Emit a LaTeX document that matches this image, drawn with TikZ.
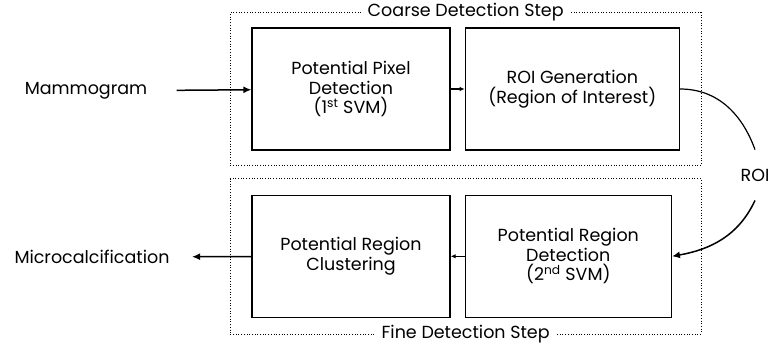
\documentclass[tikz,border=0pt]{standalone}
\usepackage{fontspec}
\setmainfont{Poppins}
\usetikzlibrary{positioning,fit,arrows.meta}

\begin{document}
\begin{tikzpicture}[x=1pt,y=1pt,node distance=14pt,
    font=\fontsize{17.5}{19.5}\selectfont,
    block/.style={draw,line width=1.3pt,minimum width=198pt,minimum height=122pt,
      align=center,inner sep=0pt},
    frame/.style={draw,dotted,line width=0.7pt,inner xsep=21pt,inner ysep=15pt},
    flow/.style={-{Latex[length=8pt,width=7pt]},line width=1.5pt},
    link/.style={-{Latex[length=5pt,width=4.5pt]},line width=1.2pt}]
  \useasboundingbox (0,0) rectangle (774,351);

  % processing blocks
  \node[block] (pixel) at (351,262) {Potential Pixel\\Detection\\(1\textsuperscript{st} SVM)};
  \node[block,minimum width=214pt,right=of pixel] (roigen) {ROI Generation\\(Region of Interest)};
  \node[block,below=44pt of pixel] (cluster) {Potential Region\\Clustering};
  \node[block,minimum width=206pt,right=of cluster] (regdet) {Potential Region\\Detection\\(2\textsuperscript{nd} SVM)};

  % the two steps
  \node[frame,fit=(pixel)(roigen)] (coarse) {};
  \node[frame,inner ysep=16pt,fit=(cluster)(regdet)(roigen.east |- regdet.east)] (fine) {};
  \node[fill=white,inner xsep=6pt] at (coarse.north) {Coarse Detection Step};
  \node[fill=white,inner xsep=6pt] at (fine.south) {Fine Detection Step};

  % input, output
  \node (mammo) at (86,260) {Mammogram};
  \node (micro) at (92,94) {Microcalcification};
  \node[inner ysep=19pt] (roi) at (755,176) {ROI};

  \draw[flow,shorten <=26pt] (mammo) -- (pixel);
  \draw[link] (pixel) -- (roigen);
  \draw[line width=1.2pt] (roigen.east) to[out=0,in=110] (roi.north);
  \draw[flow] (roi.south) to[out=-115,in=10] (regdet.east);
  \draw[link] (regdet) -- (cluster);
  \draw[flow,shorten >=19pt] (cluster) -- (micro);
\end{tikzpicture}
\end{document}
